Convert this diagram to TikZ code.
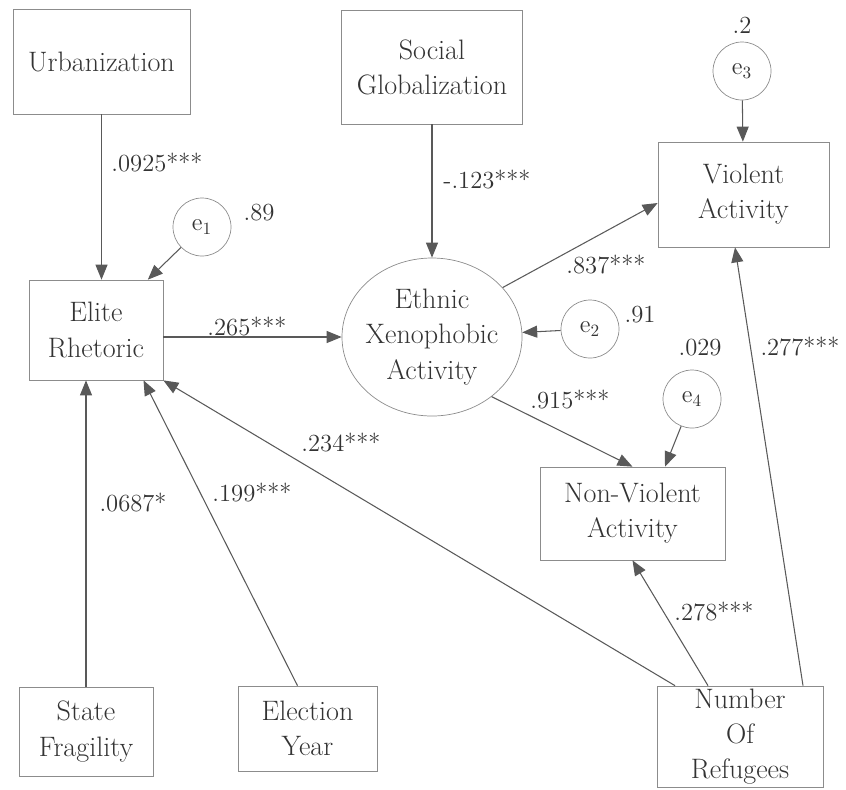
\documentclass[tikz,border=0pt]{standalone}
\usepackage{tikz}
\usepackage{xcolor}
\usetikzlibrary{arrows.meta,shapes.geometric}
\definecolor{linegray}{rgb}{0.35, 0.35, 0.35}
\definecolor{boxgray}{rgb}{0.55, 0.55, 0.55}
\definecolor{textgray}{rgb}{0.2, 0.2, 0.2}

\begin{document}
\begin{tikzpicture}[
    var/.style={draw=boxgray, rectangle, align=center, inner sep=0pt, text=textgray, font=\fontsize{16}{20}\selectfont},
    err/.style={draw=boxgray, circle, minimum size=1.16cm, inner sep=0pt, text=textgray, font=\fontsize{14}{16}\selectfont},
    coef/.style={text=textgray, font=\fontsize{14}{16}\selectfont},
    link/.style={draw=linegray, line width=0.6pt, -{Triangle[length=0.3cm, width=0.24cm]}}
]

    \useasboundingbox (0,0) rectangle (16.92,-15.78); % keep the page at the reference size

    % Observed variables
    \node[var, minimum width=3.54cm, minimum height=2.1cm] (urb) at (2.03,-1.23) {Urbanization};
    \node[var, minimum width=2.68cm, minimum height=2.0cm] (elite) at (1.92,-6.6) {Elite\\Rhetoric};
    \node[var, minimum width=3.62cm, minimum height=2.28cm] (soc) at (8.64,-1.34) {Social\\Globalization};
    \node[var, minimum width=3.42cm, minimum height=2.1cm] (viol) at (14.87,-3.89) {Violent\\Activity};
    \node[var, minimum width=3.7cm, minimum height=1.86cm] (nv) at (12.65,-10.27) {Non-Violent\\Activity};
    \node[var, minimum width=3.32cm, minimum height=2.02cm] (num) at (14.8,-14.73) {Number\\Of\\Refugees};
    \node[var, minimum width=2.68cm, minimum height=1.78cm] (state) at (1.72,-14.63) {State\\Fragility};
    \node[var, minimum width=2.78cm, minimum height=1.7cm] (elect) at (6.15,-14.57) {Election\\Year};

    % Latent variable
    \node[var, ellipse, inner xsep=-0.2cm, minimum width=3.6cm, minimum height=3.16cm] (eth) at (8.64,-6.74) {Ethnic\\Xenophobic\\Activity};

    % Error terms with their variances
    \node[err] (e1) at (4.04,-4.54) {e\textsubscript{1}};
    \node[err] (e2) at (11.8,-6.58) {e\textsubscript{2}};
    \node[err] (e3) at (14.84,-1.42) {e\textsubscript{3}};
    \node[err] (e4) at (13.84,-7.98) {e\textsubscript{4}};
    \node[coef] (v1) at (5.18,-4.26) {.89};
    \node[coef] (v2) at (12.8,-6.3) {.91};
    \node[coef] (v3) at (14.84,-0.5) {.2};
    \node[coef] (v4) at (14.0,-6.96) {.029};

    % Path coefficients
    \node[coef] (c1) at (3.14,-3.26) {.0925***};
    \node[coef] (c2) at (4.94,-6.54) {.265***};
    \node[coef] (c3) at (9.74,-3.6) {-.123***};
    \node[coef] (c4) at (12.12,-5.3) {.837***};
    \node[coef] (c5) at (11.4,-8.0) {.915***};
    \node[coef] (c6) at (16.0,-6.94) {.277***};
    \node[coef] (c7) at (14.28,-12.24) {.278***};
    \node[coef] (c8) at (6.82,-8.86) {.234***};
    \node[coef] (c9) at (5.04,-9.86) {.199***};
    \node[coef] (c10) at (2.66,-10.06) {.0687*};

    % Paths
    \draw[link] (urb.south) -- (elite.north -| urb.south);
    \draw[link] (e1) -- (elite);
    \draw[link] (elite.east |- eth.west) -- (eth.west);
    \draw[link] (soc) -- (eth);
    \draw[link] (e2) -- (eth);
    \draw[link] (eth.35) -- ([yshift=-0.17cm]viol.west);
    \draw[link] (eth.-45) -- (nv.north);
    \draw[link] (e3) -- (viol);
    \draw[link] (e4) -- ([xshift=0.65cm]nv.north);
    \draw[link] ([xshift=-0.64cm]num.north) -- (nv.south);
    \draw[link] ([xshift=1.26cm]num.north) -- ([xshift=-0.17cm]viol.south);
    \draw[link] ([xshift=-1.3cm]num.north) -- (elite.south east);
    \draw[link] (state.north) -- (elite.south -| state.north);
    \draw[link] ([xshift=-0.2cm]elect.north) -- ([xshift=0.95cm]elite.south);
\end{tikzpicture}
\end{document}
